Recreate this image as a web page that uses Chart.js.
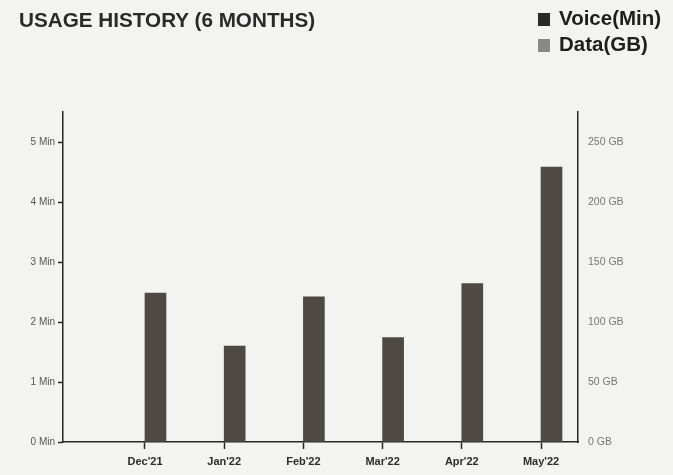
<!DOCTYPE html>
<html>
<head>
<meta charset="utf-8">
<script src="https://cdn.jsdelivr.net/npm/chart.js@4"></script>
<style>
  html, body { margin: 0; padding: 0; background: #f3f3f1; }
  #wrap { position: relative; width: 673px; height: 475px; overflow: hidden; }
  #usageChart { position: absolute; left: 0; top: 0; }
  .usage-title {
    position: absolute; left: 19px; top: 8px;
    font: bold 20.7px "Liberation Sans", Arial, sans-serif; color: #2a2a2a;
  }
  .usage-legend {
    position: absolute; left: 538px; top: 6px;
    font: bold 20.5px "Liberation Sans", Arial, sans-serif; color: #1e1e1e;
  }
  .usage-legend div { height: 26px; line-height: 24px; white-space: nowrap; }
  .usage-legend i { display: inline-block; width: 12px; height: 13px; margin-right: 9px; vertical-align: -1px; }
  .usage-legend .voice { background: #2b2a28; }
  .usage-legend .data { background: #8a8884; }
</style>
</head>
<body>
<div id="wrap">
  <canvas id="usageChart" width="673" height="475"></canvas>
  <div class="usage-title">USAGE HISTORY (6 MONTHS)</div>
  <div class="usage-legend">
    <div><i class="voice"></i>Voice(Min)</div>
    <div><i class="data"></i>Data(GB)</div>
  </div>
</div>
<script>
const months = ["Dec'21", "Jan'22", "Feb'22", "Mar'22", "Apr'22", "May'22"];
const voiceMin = [0, 0, 0, 0, 0, 0];
const dataGb = [124, 80, 121, 87, 132, 229];
const monthIdx = [0, 1, 2, 3, 4, 5];
const minTicks = [0, 1, 2, 3, 4, 5];
const gbTicks = [0, 50, 100, 150, 200, 250];

const AXIS = '#262626';
const FONT = '"Liberation Sans", Arial, sans-serif';

// put exactly these ticks on the axis
const setTicks = (list) => (scale) => {
  scale.ticks = list.map((v) => ({ value: v }));
};

new Chart(document.getElementById('usageChart'), {
  type: 'bar',
  data: {
    datasets: [
      {
        label: 'Voice(Min)',
        data: voiceMin.map((v, i) => ({ x: monthIdx[i], y: v })),
        backgroundColor: '#2b2a28',
        yAxisID: 'y',
        barThickness: 21,
      },
      {
        label: 'Data(GB)',
        data: dataGb.map((v, i) => ({ x: monthIdx[i], y: v })),
        backgroundColor: '#4e4943',
        yAxisID: 'y1',
        barThickness: 21,
      },
    ],
  },
  options: {
    responsive: false,
    animation: false,
    layout: { padding: { top: 112, left: 0, right: 0, bottom: 0 } },
    plugins: { legend: { display: false }, tooltip: { enabled: false } },
    scales: {
      x: {
        type: 'linear',
        offset: false,
        min: -1.035,
        max: 5.467,
        afterBuildTicks: setTicks(monthIdx),
        afterFit: (s) => { s.height = 33; },
        grid: { offset: false, drawOnChartArea: false, tickLength: 7, color: AXIS, tickWidth: 1.5 },
        border: { display: true, color: AXIS, width: 1.5 },
        ticks: {
          padding: 6,
          color: '#2c2c2c',
          font: { family: FONT, size: 11, weight: 'bold' },
          callback: (v) => months[v] ?? '',
          maxRotation: 0,
          autoSkip: false,
        },
      },
      y: {
        position: 'left',
        min: 0,
        max: 5.5,
        afterBuildTicks: setTicks(minTicks),
        afterFit: (s) => { s.width = 63; },
        grid: { drawOnChartArea: false, tickLength: 5, color: AXIS, tickWidth: 1.5 },
        border: { display: true, color: AXIS, width: 1.5 },
        ticks: {
          padding: 3,
          color: '#555',
          font: { family: FONT, size: 10 },
          callback: (v) => v + ' Min',
        },
      },
      y1: {
        position: 'right',
        min: 0,
        max: 275,
        afterBuildTicks: setTicks(gbTicks),
        afterFit: (s) => { s.width = 95; },
        grid: { drawOnChartArea: false, drawTicks: false },
        border: { display: true, color: AXIS, width: 1.5 },
        ticks: {
          padding: 10,
          color: '#777',
          font: { family: FONT, size: 10.5 },
          callback: (v) => v + ' GB',
        },
      },
    },
  },
});
</script>
</body>
</html>
